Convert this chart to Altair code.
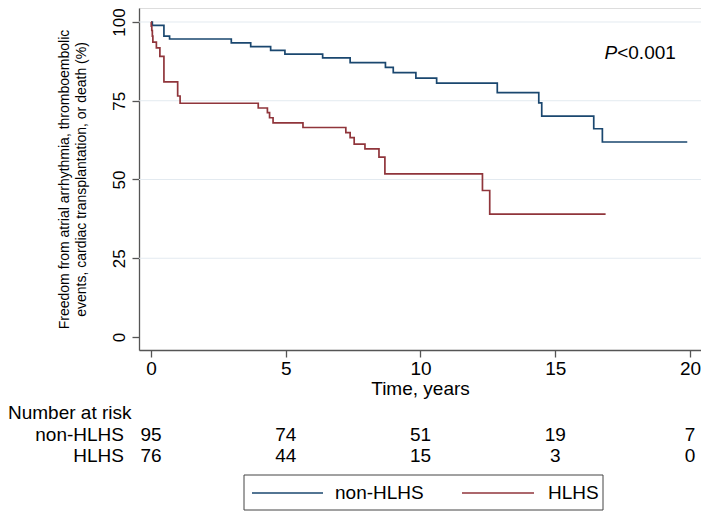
import altair as alt
import pandas as pd

# ---- data ----
GROUPS = ["non-HLHS", "HLHS"]
COLORS = ["#1a476f", "#90353b"]

NON_T = [0, 0.05, 0.48, 0.69, 2.98, 3.70, 4.44, 4.97, 6.37, 7.39, 8.70, 8.99,
         9.83, 10.60, 12.85, 14.39, 14.50, 16.43, 16.75, 19.9]
NON_S = [100, 98.9, 95.5, 94.6, 93.4, 92.2, 91.0, 89.8, 88.6, 87.1, 85.6, 83.9,
         82.2, 80.6, 77.6, 74.3, 70.1, 66.1, 61.9, 61.9]

HLHS_T = [0, 0.01, 0.03, 0.05, 0.07, 0.20, 0.33, 0.48, 0.99, 1.08, 3.98, 4.32,
          4.40, 4.53, 5.64, 7.23, 7.39, 7.54, 7.94, 8.46, 8.68, 12.30, 12.57, 16.87]
HLHS_S = [100, 98.7, 97.3, 95.5, 93.6, 91.8, 89.1, 81.0, 76.5, 74.2, 72.7, 71.2,
          69.6, 68.0, 66.5, 64.9, 63.3, 61.2, 59.7, 57.1, 51.8, 46.5, 39.0, 39.0]

X_TICKS = [0, 5, 10, 15, 20]
Y_TICKS = [0, 25, 50, 75, 100]
GRID_VALUES = [25, 50, 75, 100]
RISK_NON = [95, 74, 51, 19, 7]
RISK_HLHS = [76, 44, 15, 3, 0]

Y_TITLE = ["Freedom from atrial arrhythmia, thromboembolic",
           "events, cardiac transplantation, or death (%)"]
X_TITLE = "Time, years"
RISK_HEAD = "Number at risk"
P_ITALIC = "P"
P_REST = "<0.001"
P_TIME = 17.3
P_SURV = 90.0

FONT = "Liberation Sans"
FS = 19

# ---- tables ----
curves = pd.DataFrame({
    "time": NON_T + HLHS_T,
    "surv": NON_S + HLHS_S,
    "group": [GROUPS[0]] * len(NON_T) + [GROUPS[1]] * len(HLHS_T),
})
grid_df = pd.DataFrame({"surv": GRID_VALUES})
risk_non_df = pd.DataFrame({"time": X_TICKS, "n": RISK_NON})
risk_hlhs_df = pd.DataFrame({"time": X_TICKS, "n": RISK_HLHS})
p_df = pd.DataFrame({"time": [P_TIME], "surv": [P_SURV]})
one = pd.DataFrame({"k": [0]})

LEFT = 131
W, H = 562, 342
xscale = alt.Scale(domain=[-0.445, 20.41], nice=False, zero=False)
yscale = alt.Scale(domain=[-4.13, 104.44], nice=False, zero=False)
AX = "#555555"

x_axis = alt.Axis(values=X_TICKS, title=X_TITLE, grid=False, format="d",
                  labelFontSize=FS, titleFontSize=FS, titleFontWeight="normal",
                  labelFont=FONT, titleFont=FONT, labelColor="#000", titleColor="#000",
                  tickSize=7, tickColor=AX, domainColor=AX, domainWidth=1.3, tickWidth=1.3,
                  labelPadding=2, titlePadding=1, labelFlush=False)
y_axis = alt.Axis(values=Y_TICKS, title=Y_TITLE, grid=False,
                  labelAngle=270, labelAlign="center", labelBaseline="bottom",
                  labelPadding=4, labelFontSize=17, labelFont=FONT, labelColor="#000",
                  titleFontSize=14, titleFont=FONT, titleFontWeight="normal", titleColor="#000",
                  titleAngle=270, titleAlign="center", titleBaseline="bottom",
                  titleX=-68, titleY=H / 2, titleLineHeight=17,
                  tickSize=7, tickColor=AX, domainColor=AX, domainWidth=1.3, tickWidth=1.3,
                  labelFlush=False)

grid = alt.Chart(grid_df).mark_rule(color="#e3eaf0", strokeWidth=1).encode(
    y=alt.Y("surv:Q", scale=yscale, title=Y_TITLE)
)

lines = alt.Chart(curves).mark_line(interpolate="step-after", strokeWidth=1.7).encode(
    x=alt.X("time:Q", scale=xscale, axis=x_axis),
    y=alt.Y("surv:Q", scale=yscale, axis=y_axis),
    color=alt.Color("group:N", scale=alt.Scale(domain=GROUPS, range=COLORS), legend=None),
    detail="group:N",
)

p1 = alt.Chart(p_df).mark_text(text=P_ITALIC, fontStyle="italic", fontSize=FS, font=FONT,
                               align="right", baseline="middle", color="#000").encode(
    x=alt.X("time:Q", scale=xscale, title=X_TITLE), y=alt.Y("surv:Q", scale=yscale, title=Y_TITLE))
p2 = alt.Chart(p_df).mark_text(text=P_REST, fontSize=FS, font=FONT,
                               align="left", baseline="middle", color="#000").encode(
    x=alt.X("time:Q", scale=xscale, title=X_TITLE), y=alt.Y("surv:Q", scale=yscale, title=Y_TITLE))

# ---- number-at-risk table (below the plot) ----
ROW_NON_Y = 427
ROW_HLHS_Y = 448
HEAD_Y = 405
LBL_X = 124 - 8 - LEFT

risk_non = alt.Chart(risk_non_df).mark_text(fontSize=FS, font=FONT, align="center",
                                            baseline="middle", color="#000").encode(
    x=alt.X("time:Q", scale=xscale, title=X_TITLE), y=alt.value(ROW_NON_Y), text="n:Q")
risk_hlhs = alt.Chart(risk_hlhs_df).mark_text(fontSize=FS, font=FONT, align="center",
                                              baseline="middle", color="#000").encode(
    x=alt.X("time:Q", scale=xscale, title=X_TITLE), y=alt.value(ROW_HLHS_Y), text="n:Q")

head = alt.Chart(one).mark_text(text=RISK_HEAD, fontSize=FS, font=FONT, align="left",
                                baseline="middle", color="#000").encode(
    x=alt.value(-LEFT), y=alt.value(HEAD_Y))
row_non_lbl = alt.Chart(one).mark_text(text=GROUPS[0], fontSize=FS, font=FONT, align="right",
                                       baseline="middle", color="#000").encode(
    x=alt.value(LBL_X), y=alt.value(ROW_NON_Y))
row_hlhs_lbl = alt.Chart(one).mark_text(text=GROUPS[1], fontSize=FS, font=FONT, align="right",
                                        baseline="middle", color="#000").encode(
    x=alt.value(LBL_X), y=alt.value(ROW_HLHS_Y))

# ---- legend box (page coordinates converted to plot coordinates) ----
def px(page_x):
    return page_x - 8 - LEFT

LEG_Y = 485
leg_box = alt.Chart(one).mark_rect(fill="white", stroke="#444444", strokeWidth=1).encode(
    x=alt.value(px(244)), x2=alt.value(px(603)), y=alt.value(467), y2=alt.value(502))
leg_line_non = alt.Chart(one).mark_rule(color=COLORS[0], strokeWidth=1.6).encode(
    x=alt.value(px(252)), x2=alt.value(px(323)), y=alt.value(LEG_Y))
leg_line_hlhs = alt.Chart(one).mark_rule(color=COLORS[1], strokeWidth=1.6).encode(
    x=alt.value(px(462)), x2=alt.value(px(534)), y=alt.value(LEG_Y))
leg_txt_non = alt.Chart(one).mark_text(text=GROUPS[0], fontSize=FS, font=FONT, align="left",
                                       baseline="middle", color="#000").encode(
    x=alt.value(px(335)), y=alt.value(LEG_Y))
leg_txt_hlhs = alt.Chart(one).mark_text(text=GROUPS[1], fontSize=FS, font=FONT, align="left",
                                        baseline="middle", color="#000").encode(
    x=alt.value(px(548)), y=alt.value(LEG_Y))

chart = alt.layer(grid, lines, p1, p2, risk_non, risk_hlhs, head, row_non_lbl, row_hlhs_lbl,
                  leg_box, leg_line_non, leg_line_hlhs, leg_txt_non, leg_txt_hlhs).properties(
    width=W, height=H, autosize="none",
    padding={"left": LEFT, "top": 0, "right": 0, "bottom": 164},
).configure_view(stroke=None).configure(background="white")

chart.save("out.html", embed_options={"renderer": "svg", "actions": False})
